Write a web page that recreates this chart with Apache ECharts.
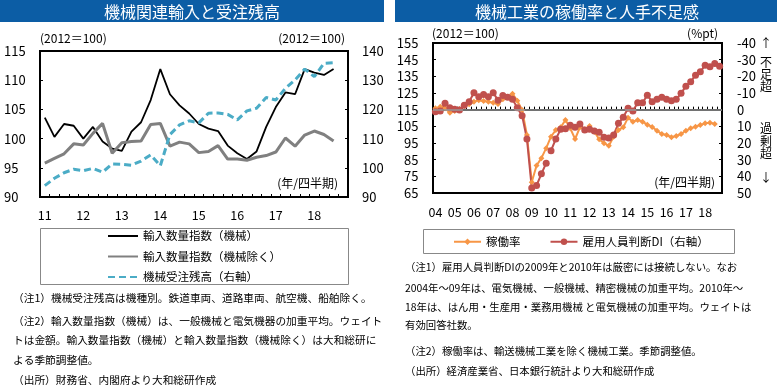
<!DOCTYPE html>
<html><head><meta charset="utf-8">
<script src="https://cdn.jsdelivr.net/npm/echarts@6/dist/echarts.min.js"></script>
<style>html,body{margin:0;padding:0;background:#fff}#c{width:777px;height:390px}</style>
</head><body><div id="c"></div>
<script>
const FONT = '"Noto Sans CJK JP", "Noto Sans", sans-serif';

// ---------- Left panel data (2011Q1 - 2018Q4 categories) ----------
const yearsL = ['11','12','13','14','15','16','17','18'];
const quarters = ['1','2','3','4'];
const imports = [103.6,100.3,102.5,102.2,100.0,102.0,99.5,98.3,97.9,101.2,102.8,106.6,111.9,107.6,105.7,104.3,102.5,101.7,101.3,98.8,97.5,96.5,97.8,102.0,105.4,107.9,107.6,111.9,111.3,110.9,111.9];
const importsEx = [95.8,96.6,97.4,99.1,98.9,100.9,102.6,97.5,99.3,99.5,99.6,102.4,102.6,98.7,99.4,99.1,97.6,97.8,98.8,96.5,96.5,96.3,96.8,97.1,97.7,100.1,98.7,100.6,101.3,100.7,99.6];
const backlog = [93.9,96.4,98.3,99.5,99.0,99.8,98.5,101.3,101.2,100.9,102.3,104.4,100.7,111.4,114.7,116.1,115.4,118.7,118.8,118.3,116.4,119.5,120.4,124.1,123.2,127.2,130.1,133.8,131.2,135.8,136.0];

// ---------- Right panel data (2004Q1 - 2018Q4 categories) ----------
const yearsR = ['04','05','06','07','08','09','10','11','12','13','14','15','16','17','18'];
const util = [115.8,116.7,115.8,113.2,114.2,115.4,117.2,118.2,119.7,120.7,120.2,119.7,119.1,118.4,121.2,122.7,124.5,120.4,114.8,99.8,71.5,81.5,85.9,91.9,98.8,102.8,104.4,108.8,103.8,97.4,104.4,103.2,105.2,101.8,97.3,94.9,93.3,98.8,102.8,104.4,110.2,107.8,108.8,107.8,106.0,104.6,102.4,100.4,99.8,98.5,99.2,100.4,102.4,103.8,104.8,105.8,106.8,107.2,106.4];
// 雇用人員判断DI: old basis 2004Q1-2009Q4, new basis 2010Q1-2018Q4
const diOld = [1.2,0.8,-3.8,-1.2,-0.2,0.2,-2.6,-4.7,-10.1,-7.7,-9.1,-7.7,-10.1,-5.7,-8.5,-7.4,-6.2,-1.2,3.6,17.6,47.0,45.5,38.5,32.1];
const diNew = [24.6,17.6,11.8,11.4,9.4,10.6,8.6,12.2,11.8,12.8,13.6,16.5,17.0,15.2,8.2,4.6,-0.8,0.8,-4.1,-4.1,-8.7,-4.7,-6.2,-7.4,-6.2,-5.3,-6.2,-9.8,-14.1,-16.7,-20.7,-22.7,-26.7,-25.7,-27.7,-26.1];
const utilTicks = ['65','75','85','95','105','115','125','135','145','155'];

const catL = yearsL.flatMap(y => quarters.map(q => y + '-' + q));
const catR = yearsR.flatMap(y => quarters.map(q => y + '-' + q));
const yearOnly = v => v.endsWith('-1') ? v.split('-')[0] : '';

const names = {
  imp: '輸入数量指数（機械）', impEx: '輸入数量指数（機械除く）', back: '機械受注残高（右軸）',
  util: '稼働率', di: '雇用人員判断DI（右軸）'
};

const black = '#000';
const tickCommon = {show: true, inside: true, length: 3, lineStyle: {color: black, width: 1}};
const lineCommon = {show: true, lineStyle: {color: black, width: 2}};
const lblCommon = {color: black, fontFamily: FONT, fontSize: 13};

function txt(text, x, y, size, opts) {
  return {type: 'text', silent: true, style: Object.assign({
    text, x, y, fill: '#000', font: size + 'px ' + FONT, textVerticalAlign: 'middle', textAlign: 'left'
  }, opts || {})};
}

const graphic = [
  {type: 'rect', silent: true, shape: {x: 0, y: 0, width: 384, height: 22}, style: {fill: '#0c5da5'}},
  {type: 'rect', silent: true, shape: {x: 395, y: 0, width: 382, height: 22}, style: {fill: '#0c5da5'}},
  txt('機械関連輸入と受注残高', 192, 11.5, 16, {fill: '#fff', textAlign: 'center'}),
  txt('機械工業の稼働率と人手不足感', 587, 11.5, 16, {fill: '#fff', textAlign: 'center'}),
  txt('(2012＝100)', 40, 38, 12),
  txt('(2012＝100)', 345, 38, 12, {textAlign: 'right'}),
  txt('(年/四半期)', 338, 183, 12, {textAlign: 'right'}),
  txt('(2012＝100)', 432, 33, 12),
  txt('(%pt)', 718, 33, 12, {textAlign: 'right'}),
  txt('(年/四半期)', 715, 182, 12, {textAlign: 'right'}),
  txt('↑', 766, 43, 12, {textAlign: 'center'}),
  txt('不', 766, 62, 12, {textAlign: 'center'}),
  txt('足', 766, 74, 12, {textAlign: 'center'}),
  txt('超', 766, 86, 12, {textAlign: 'center'}),
  txt('過', 766, 128, 12, {textAlign: 'center'}),
  txt('剰', 766, 141, 12, {textAlign: 'center'}),
  txt('超', 766, 153, 12, {textAlign: 'center'}),
  txt('↓', 766, 177, 12, {textAlign: 'center'}),
  {type: 'rect', silent: true, shape: {x: 40.5, y: 228.5, width: 308, height: 56}, style: {fill: 'none', stroke: '#888', lineWidth: 1}},
  {type: 'rect', silent: true, shape: {x: 423.5, y: 229.5, width: 311, height: 24}, style: {fill: 'none', stroke: '#888', lineWidth: 1}},
  txt('（注1）機械受注残高は機種別。鉄道車両、道路車両、航空機、船舶除く。', 13, 297.5, 10.7),
  txt('（注2）輸入数量指数（機械）は、一般機械と電気機器の加重平均。ウェイト', 13, 321, 10.7),
  txt('トは金額。輸入数量指数（機械）と輸入数量指数（機械除く）は大和総研に', 13, 340, 10.7),
  txt('よる季節調整値。', 13, 360, 10.7),
  txt('（出所）財務省、内閣府より大和総研作成', 13, 380, 10.7),
  txt('（注1）雇用人員判断DIの2009年と2010年は厳密には接続しない。なお', 405, 267, 10.4),
  txt('2004年～09年は、電気機械、一般機械、精密機械の加重平均。2010年～', 405, 288, 10.4),
  txt('18年は、はん用・生産用・業務用機械 と電気機械の加重平均。ウェイトは', 405, 307, 10.4),
  txt('有効回答社数。', 405, 325, 10.4),
  txt('（注2）稼働率は、輸送機械工業を除く機械工業。季節調整値。', 405, 351, 10.4),
  txt('（出所）経済産業省、日本銀行統計より大和総研作成', 405, 371, 10.4)
];

const option = {
  animation: false,
  backgroundColor: '#fff',
  textStyle: {fontFamily: FONT},
  graphic: graphic,
  grid: [
    {left: 40, top: 51, width: 308, height: 146, show: true, borderColor: black, borderWidth: 2, backgroundColor: 'transparent'},
    {left: 433, top: 43, width: 289, height: 150, show: true, borderColor: black, borderWidth: 2, backgroundColor: 'transparent'}
  ],
  legend: [
    {data: [names.imp, names.impEx, names.back], orient: 'vertical', left: 107, top: 229, padding: 0,
     itemWidth: 30, itemHeight: 14, itemGap: 6.5, selectedMode: false,
     itemStyle: {opacity: 0},
     textStyle: {fontSize: 11.5, fontFamily: FONT, color: black, lineHeight: 14}},
    {data: [names.util, names.di], orient: 'horizontal', left: 453, top: 236, padding: 0,
     itemWidth: 27, itemHeight: 8, itemGap: 29, selectedMode: false,
     textStyle: {fontSize: 11.5, fontFamily: FONT, color: black}}
  ],
  xAxis: [
    {type: 'category', gridIndex: 0, data: catL, boundaryGap: true, axisLine: lineCommon,
     axisTick: Object.assign({interval: 0}, tickCommon),
     axisLabel: Object.assign({interval: 0, formatter: yearOnly, margin: 12}, lblCommon, {fontSize: 12.5}),
     splitLine: {show: false}},
    {type: 'category', gridIndex: 1, data: catR, boundaryGap: true, axisLine: lineCommon,
     axisTick: Object.assign({interval: 0}, tickCommon),
     axisLabel: Object.assign({interval: 0, formatter: yearOnly, margin: 12.5}, lblCommon, {fontSize: 12.5}),
     splitLine: {show: false}}
  ],
  yAxis: [
    {type: 'value', gridIndex: 0, position: 'left', min: 90, max: 115, interval: 5,
     axisLine: lineCommon, axisTick: tickCommon, splitLine: {show: false},
     axisLabel: Object.assign({align: 'left', margin: 36}, lblCommon)},
    {type: 'value', gridIndex: 0, position: 'right', min: 90, max: 140, interval: 10,
     axisLine: lineCommon, axisTick: tickCommon, splitLine: {show: false},
     axisLabel: Object.assign({margin: 14}, lblCommon)},
    {type: 'value', gridIndex: 1, position: 'left', min: 65, max: 155, show: false, splitLine: {show: false}},
    {type: 'value', gridIndex: 1, position: 'right', min: -40, max: 50, interval: 10, inverse: true,
     axisLine: lineCommon, axisTick: tickCommon, splitLine: {show: false},
     axisLabel: Object.assign({margin: 15}, lblCommon)},
    {type: 'category', gridIndex: 1, position: 'left', data: utilTicks, boundaryGap: false,
     axisLine: lineCommon, axisTick: Object.assign({interval: 0}, tickCommon), splitLine: {show: false},
     axisLabel: Object.assign({interval: 0, margin: 14.5}, lblCommon)}
  ],
  series: [
    {type: 'line', name: names.imp, xAxisIndex: 0, yAxisIndex: 0, data: imports, symbol: 'none',
     lineStyle: {color: '#000', width: 1.8}, itemStyle: {color: '#000'}},
    {type: 'line', name: names.impEx, xAxisIndex: 0, yAxisIndex: 0, data: importsEx, symbol: 'none',
     lineStyle: {color: '#808080', width: 3}, itemStyle: {color: '#808080'}},
    {type: 'line', name: names.back, xAxisIndex: 0, yAxisIndex: 1, data: backlog, symbol: 'none',
     lineStyle: {color: '#4BACC6', width: 3, type: [7, 4]}, itemStyle: {color: '#4BACC6'}},
    {type: 'line', name: names.util, xAxisIndex: 1, yAxisIndex: 2, data: util, symbol: 'diamond', symbolSize: 6,
     lineStyle: {color: '#F79646', width: 2}, itemStyle: {color: '#F79646'}},
    {type: 'line', name: names.di, xAxisIndex: 1, yAxisIndex: 3, data: diOld, symbol: 'circle', symbolSize: 7,
     lineStyle: {color: '#C0504D', width: 2}, itemStyle: {color: '#C0504D'},
     markLine: {silent: true, symbol: ['none', 'none'], label: {show: false},
       lineStyle: {color: '#999', width: 1.5, type: 'solid'}, data: [{yAxis: 0}]}},
    {type: 'line', name: names.di, xAxisIndex: 1, yAxisIndex: 3,
     data: diOld.map(() => null).concat(diNew), symbol: 'circle', symbolSize: 7,
     lineStyle: {color: '#C0504D', width: 2}, itemStyle: {color: '#C0504D'}}
  ]
};

const chart = echarts.init(document.getElementById('c'), null, {renderer: 'canvas'});
chart.setOption(option);
</script>
</body></html>
